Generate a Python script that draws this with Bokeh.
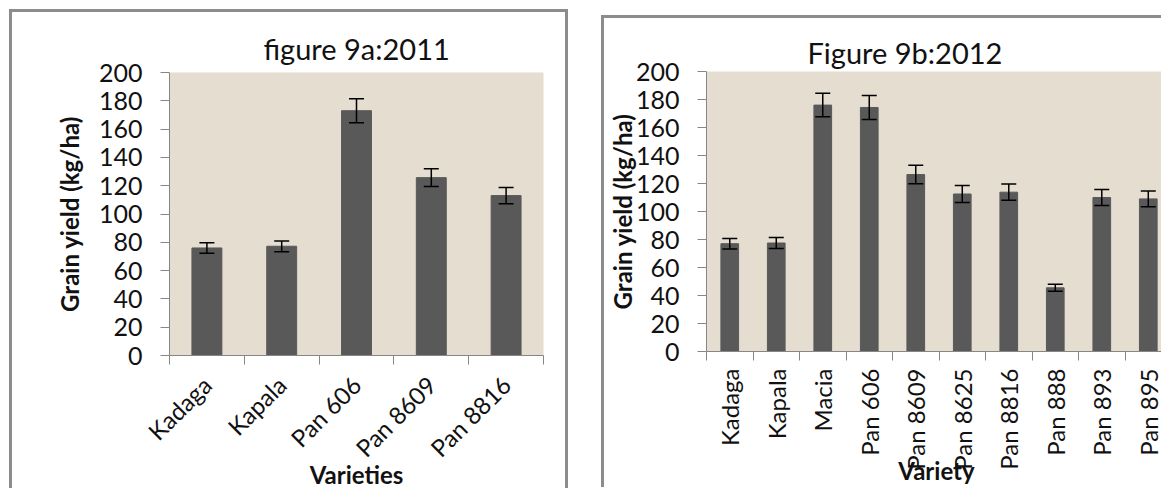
import math
from bokeh.plotting import figure
from bokeh.models import ColumnDataSource, Range1d, FixedTicker, Whisker, TeeHead
from bokeh.layouts import row, column
from bokeh.embed import file_html
from bokeh.resources import INLINE

# ---------------- data ----------------
varieties_2011 = ["Kadaga", "Kapala", "Pan 606", "Pan 8609", "Pan 8816"]
yield_2011 = [76.0, 77.2, 173.0, 125.7, 113.0]
error_2011 = [3.7, 3.8, 8.5, 6.3, 5.7]

varieties_2012 = ["Kadaga", "Kapala", "Macia", "Pan 606", "Pan 8609",
                  "Pan 8625", "Pan 8816", "Pan 888", "Pan 893", "Pan 895"]
yield_2012 = [77.0, 77.5, 176.0, 174.3, 126.4, 112.5, 113.8, 45.5, 110.0, 109.0]
error_2012 = [3.7, 4.0, 8.4, 8.5, 6.6, 6.0, 5.8, 2.5, 5.7, 5.6]

y_ticks = [0, 20, 40, 60, 80, 100, 120, 140, 160, 180, 200]

title_2011 = "figure 9a:2011"
title_2012 = "Figure 9b:2012"
y_label = "Grain yield (kg/ha)"
x_label_2011 = "Varieties"
x_label_2012 = "Variety"

# ---------------- style ----------------
FONT = "Lato"
BAR = "#595959"
BG = "#e4ddd0"
AXIS = "#868686"
BORDER = "#8c8c8c"
TXT = "#111111"


def make_panel(names, vals, errs, title, xlabel, frame_w, frame_h, x_end,
               mb_left, mb_top, mb_right, mb_bottom, bar_w, orient,
               title_offset, title_standoff, ylab_standoff, xlab_standoff,
               xlab_tick_standoff, head):
    idx = list(range(len(names)))
    src = ColumnDataSource(dict(
        x=idx, top=vals,
        upper=[v + e for v, e in zip(vals, errs)],
        lower=[v - e for v, e in zip(vals, errs)],
    ))
    p = figure(frame_width=frame_w, frame_height=frame_h,
               x_range=Range1d(-0.5, x_end), y_range=Range1d(0, 200),
               output_backend="svg", toolbar_location=None,
               min_border_left=mb_left, min_border_top=mb_top,
               min_border_right=mb_right, min_border_bottom=mb_bottom)
    p.background_fill_color = BG
    p.border_fill_color = "white"
    p.outline_line_color = None
    p.grid.visible = False

    p.vbar(x="x", top="top", width=bar_w, source=src, fill_color=BAR,
           line_color=BAR)
    w = Whisker(base="x", upper="upper", lower="lower", source=src,
                line_color="black", line_width=1.5, level="glyph",
                upper_head=TeeHead(size=head, line_color="black", line_width=1.5),
                lower_head=TeeHead(size=head, line_color="black", line_width=1.5))
    p.add_layout(w)

    # title
    p.title.text = title
    p.title.text_font = FONT
    p.title.text_font_size = "29px"
    p.title.text_font_style = "normal"
    p.title.text_color = TXT
    p.title.align = "left"
    p.title.offset = title_offset
    p.title.standoff = title_standoff

    # y axis
    ya = p.yaxis[0]
    ya.ticker = FixedTicker(ticks=y_ticks)
    ya.axis_line_color = AXIS
    ya.major_tick_line_color = AXIS
    ya.major_tick_out = 9
    ya.major_tick_in = 0
    ya.minor_tick_line_color = None
    ya.major_label_text_font = FONT
    ya.major_label_text_font_size = "25px"
    ya.major_label_text_color = TXT
    ya.major_label_standoff = 18
    ya.axis_label = y_label
    ya.axis_label_text_font = FONT
    ya.axis_label_text_font_size = "24px"
    ya.axis_label_text_font_style = "bold"
    ya.axis_label_text_color = TXT
    ya.axis_label_standoff = ylab_standoff

    # x axis: labels at centres, tick marks between categories
    xa = p.xaxis[0]
    xa.ticker = FixedTicker(ticks=idx,
                            minor_ticks=[i - 0.5 for i in range(len(names) + 1)])
    xa.major_label_overrides = {i: n for i, n in zip(idx, names)}
    xa.axis_line_color = AXIS
    xa.major_tick_out = 0
    xa.major_tick_in = 0
    xa.major_tick_line_color = None
    xa.minor_tick_line_color = AXIS
    xa.minor_tick_out = 9
    xa.minor_tick_in = 0
    xa.major_label_orientation = orient
    xa.major_label_text_font = FONT
    xa.major_label_text_font_size = "24px"
    xa.major_label_text_color = TXT
    xa.major_label_standoff = xlab_tick_standoff
    xa.axis_label = xlabel
    xa.axis_label_text_font = FONT
    xa.axis_label_text_font_size = "24px"
    xa.axis_label_text_font_style = "bold"
    xa.axis_label_text_color = TXT
    xa.axis_label_standoff = xlab_standoff
    return p


p1 = make_panel(varieties_2011, yield_2011, error_2011, title_2011, x_label_2011,
                frame_w=368, frame_h=280, x_end=4.5,
                mb_left=157, mb_top=60, mb_right=28, mb_bottom=135,
                bar_w=0.4, orient=math.pi / 4,
                title_offset=94, title_standoff=13, ylab_standoff=12,
                xlab_standoff=-16, xlab_tick_standoff=16, head=15)
p1.styles = {"border-top": f"3px solid {BORDER}",
             "border-left": f"3px solid {BORDER}",
             "border-right": f"3px solid {BORDER}"}
p1.margin = (9, 0, 0, 9)

p2 = make_panel(varieties_2012, yield_2012, error_2012, title_2012, x_label_2012,
                frame_w=457, frame_h=277, x_end=-0.5 + 457 / 46.2,
                mb_left=99, mb_top=53, mb_right=0, mb_bottom=139,
                bar_w=0.38, orient=math.pi / 2,
                title_offset=101, title_standoff=3, ylab_standoff=-4,
                xlab_standoff=-17, xlab_tick_standoff=8, head=15)
p2.styles = {"border-top": f"3px solid {BORDER}",
             "border-left": f"3px solid {BORDER}"}
p2.margin = (15, 0, 0, 33)

layout = row(column(p1), column(p2))
open("out.html", "w").write(file_html(layout, INLINE))
